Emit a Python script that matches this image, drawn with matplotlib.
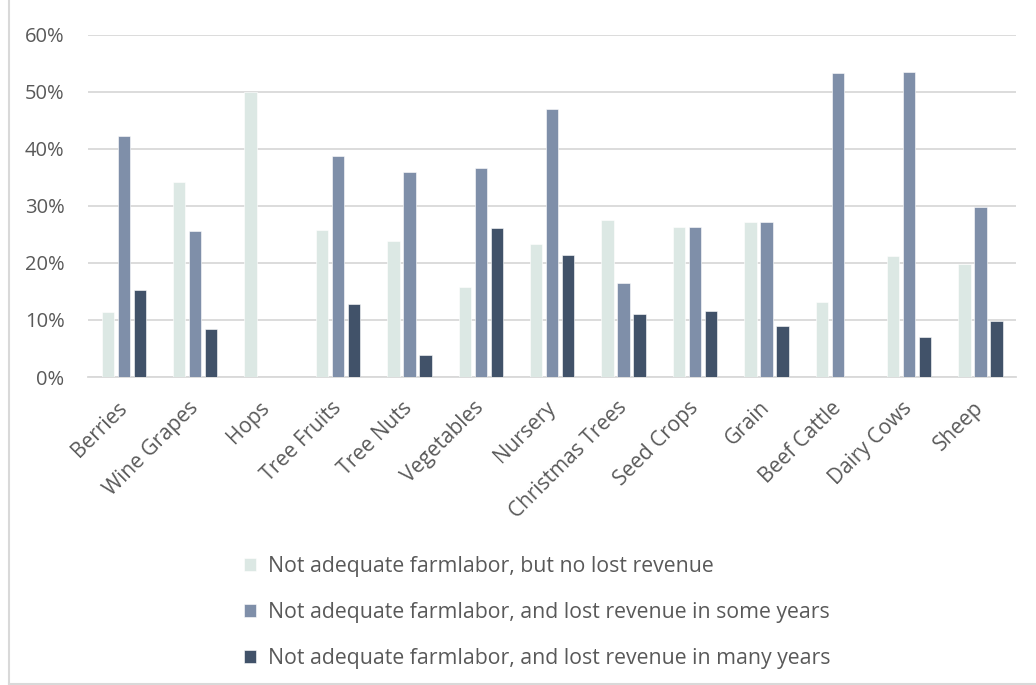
import numpy as np
import matplotlib
matplotlib.use("Agg")
import matplotlib.pyplot as plt
from matplotlib.lines import Line2D

crops = ["Berries", "Wine Grapes", "Hops", "Tree Fruits", "Tree Nuts",
         "Vegetables", "Nursery", "Christmas Trees", "Seed Crops", "Grain",
         "Beef Cattle", "Dairy Cows", "Sheep"]
no_lost = [11.4, 34.2, 50.0, 25.7, 23.9, 15.7, 23.4, 27.6, 26.3, 27.1, 13.2, 21.2, 19.9]
lost_some = [42.2, 25.6, 0.0, 38.7, 35.9, 36.7, 47.0, 16.5, 26.3, 27.1, 53.3, 53.5, 29.8]
lost_many = [15.2, 8.4, 0.0, 12.8, 3.9, 26.1, 21.4, 11.0, 11.6, 8.9, 0.0, 7.0, 9.8]
series_labels = ["Not adequate farmlabor, but no lost revenue",
                 "Not adequate farmlabor, and lost revenue in some years",
                 "Not adequate farmlabor, and lost revenue in many years"]
yticks = [0, 10, 20, 30, 40, 50, 60]

COLORS = ["#dce8e4", "#7f8fa9", "#415269"]
TEXT = "#595959"
GRID = "#d9d9d9"

plt.rcParams.update({"font.family": ["Open Sans", "DejaVu Sans"]})

fig = plt.figure(figsize=(10.36, 6.85), dpi=100)
ax = fig.add_axes([0.085, 0.4496, 0.896, 0.4995])

x = np.arange(len(crops))
w, step = 0.175, 0.224
for i, (vals, lab) in enumerate(zip([no_lost, lost_some, lost_many], series_labels)):
    ax.bar(x + (i - 1) * step, vals, width=w, color=COLORS[i], label=lab,
           zorder=3, edgecolor="white", linewidth=0.4)

ax.set_xlim(-0.5, len(crops) - 0.5)
ax.set_ylim(0, 60)
ax.set_yticks(yticks)
ax.set_yticklabels([f"{t}%" for t in yticks], fontsize=14.5, color=TEXT)
ax.set_xticks(x)
ax.set_xticklabels(crops, rotation=45, ha="right", va="center",
                   rotation_mode="anchor", fontsize=15, color=TEXT)
ax.tick_params(length=0)
ax.tick_params(axis="y", pad=17)
ax.tick_params(axis="x", pad=20)
ax.yaxis.grid(True, color=GRID, linewidth=1.3, zorder=0)
ax.set_axisbelow(True)
for s in ["top", "right", "left"]:
    ax.spines[s].set_visible(False)
ax.spines["bottom"].set_color(GRID)
ax.spines["bottom"].set_linewidth(1.3)

fig.legend(loc="upper left", bbox_to_anchor=(0.2175, 0.216), frameon=False,
           fontsize=15.3, labelcolor=TEXT, handlelength=0.55, handleheight=0.55,
           handletextpad=0.55, labelspacing=1.17)

# chart frame: left and bottom edges
fx, fy = 8.5 / 1036, 1.5 / 685
fig.add_artist(Line2D([fx, fx], [fy, 1.0], transform=fig.transFigure,
                      color=GRID, linewidth=1.5))
fig.add_artist(Line2D([fx, 1.0], [fy, fy], transform=fig.transFigure,
                      color=GRID, linewidth=1.5))

fig.savefig("out.png", dpi=100)
